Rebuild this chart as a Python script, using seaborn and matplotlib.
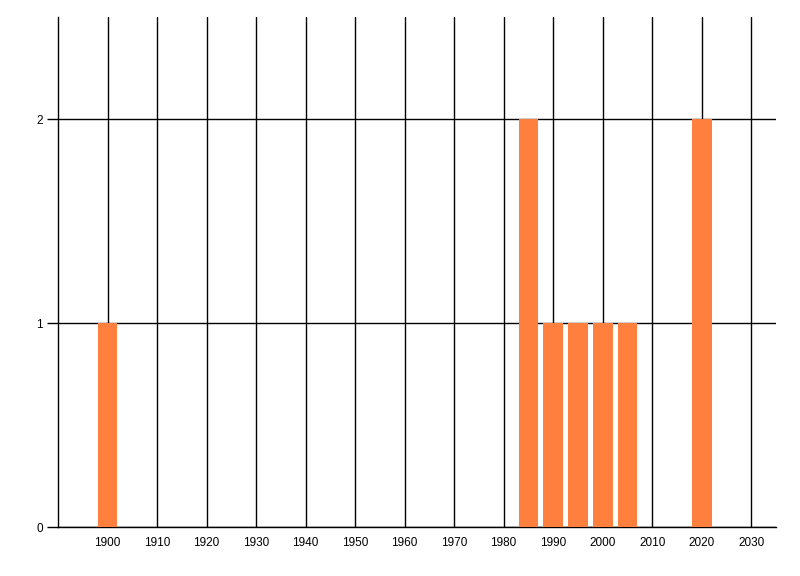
import matplotlib
matplotlib.use("Agg")
import matplotlib.pyplot as plt
import seaborn as sns
import pandas as pd

sns.set_theme(style="white")
plt.rcParams["font.family"] = ["Liberation Sans", "DejaVu Sans"]

# data
years = [1900, 1985, 1990, 1995, 2000, 2005, 2020]
counts = [1, 2, 1, 1, 1, 1, 2]
x_ticks = list(range(1900, 2031, 10))
y_ticks = [0, 1, 2]

BAR_COLOR = "#FF7F3F"

df = pd.DataFrame({"Year": years, "Count": counts})

fig = plt.figure(figsize=(8, 5.76), dpi=100)
ax = fig.add_axes([0.0725, 0.085, 0.8975, 0.8855])

sns.barplot(data=df, x="Year", y="Count", native_scale=True, color=BAR_COLOR,
            saturation=1, width=0.8, linewidth=0, ax=ax, zorder=3)

ax.set_xlim(1890, 2035)
ax.set_ylim(0, 2.5)
ax.set_xticks(x_ticks)
ax.set_xticklabels([str(t) for t in x_ticks])
ax.set_yticks(y_ticks)
ax.set_xlabel("")
ax.set_ylabel("")

ax.grid(True, color="black", linewidth=1.0, zorder=0)
ax.set_axisbelow(True)
for side in ["top", "right"]:
    ax.spines[side].set_visible(False)
for side in ["left", "bottom"]:
    ax.spines[side].set_color("black")
    ax.spines[side].set_linewidth(1.0)

ax.tick_params(axis="x", length=0, pad=7, labelsize=8.5, colors="black")
ax.tick_params(axis="y", left=True, length=8, width=1.0, pad=3, labelsize=8.5, colors="black")

fig.savefig("out.png", dpi=100)
